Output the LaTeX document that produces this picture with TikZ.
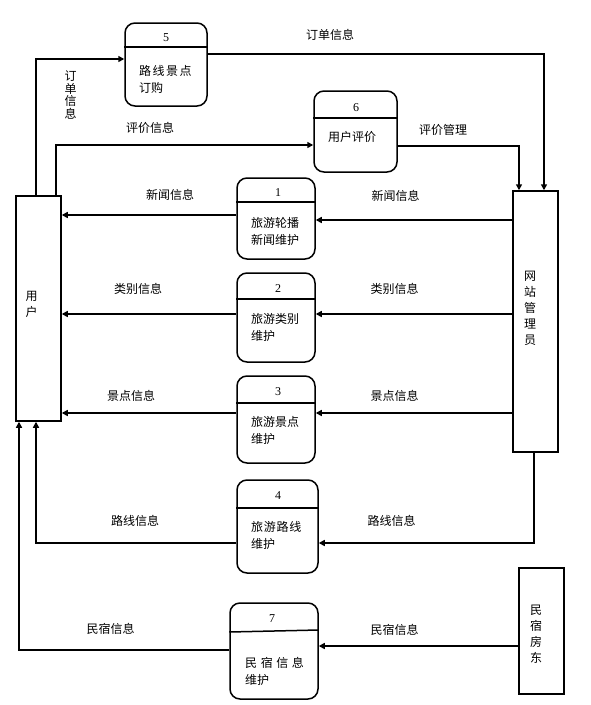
\documentclass[tikz,border=0pt]{standalone}
\usepackage{fontspec}
\setmainfont{Noto Sans CJK SC}
\newfontfamily\numfont{Liberation Serif}
\usetikzlibrary{arrows.meta,calc}

\begin{document}
\begin{tikzpicture}[x=1pt, y=-1pt, font=\fontsize{12}{17}\selectfont,
  ent/.style={draw, line width=1.5pt, minimum width=45pt, inner sep=0pt},
  proc/.style={draw, line width=1.5pt, rounded corners=10pt, inner sep=0pt},
  arr/.style={-{Triangle[length=6pt,width=6pt]}, line width=1.5pt},
  vtxt/.style={align=center, inner sep=0pt, font=\fontsize{12}{16}\selectfont},
  body/.style={anchor=west, align=left, inner sep=0pt},
  num/.style={inner sep=0pt, font=\numfont\fontsize{12}{14}\selectfont},
  lbl/.style={inner sep=1pt}]
\useasboundingbox (0,0) rectangle (590,705);

% external entities
\node[ent, minimum height=225pt] (user) at (38.5,308.5) {};
\node[vtxt] (usertxt) at (31.5,304) {用\\户};
\node[ent, minimum height=261pt] (admin) at (535.5,321.5) {};
\node[vtxt] (admintxt) at (530,308.5) {网\\站\\管\\理\\员};
\node[ent, minimum height=126pt] (host) at (541.5,631) {};
\node[vtxt] (hosttxt) at (536,634) {民\\宿\\房\\东};

% processes
\node[proc, minimum width=82pt, minimum height=83pt] (p5) at (166,64.5) {};
\node[proc, minimum width=83pt, minimum height=81pt] (p6) at (355.5,131.5) {};
\node[proc, minimum width=78pt, minimum height=81pt] (p1) at (276,218.5) {};
\node[proc, minimum width=78pt, minimum height=89pt] (p2) at (276,317.5) {};
\node[proc, minimum width=78pt, minimum height=87pt] (p3) at (276,419.5) {};
\node[proc, minimum width=81pt, minimum height=93pt] (p4) at (277.5,526.5) {};
\node[proc, minimum width=88pt, minimum height=96pt] (p7) at (274,651) {};

% dividers
\draw[line width=1.5pt] (p5.west |- 0,47) -- (p5.east |- 0,47);
\draw[line width=1.5pt] (p6.west |- 0,118) -- (p6.east |- 0,118);
\draw[line width=1.5pt] (p1.west |- 0,202) -- (p1.east |- 0,202);
\draw[line width=1.5pt] (p2.west |- 0,299) -- (p2.east |- 0,299);
\draw[line width=1.5pt] (p3.west |- 0,403) -- (p3.east |- 0,403);
\draw[line width=1.5pt] (p4.west |- 0,508) -- (p4.east |- 0,508);
\draw[line width=1.5pt] (p7.west |- 0,632) -- (p7.east |- 0,630);

% numbers and names
\node[num] (n5) at (166,38) {5};
\node[num] (n6) at (356,108) {6};
\node[num] (n1) at (278,193) {1};
\node[num] (n2) at (278,289) {2};
\node[num] (n3) at (278,392) {3};
\node[num] (n4) at (278,496) {4};
\node[num] (n7) at (272,619) {7};
\node[body] (t5) at (139,79) {{\addfontfeature{LetterSpace=12}路线景点}\\订购};
\node[body] (t6) at (328,137) {用户评价};
\node[body] (t1) at (251,231) {旅游轮播\\新闻维护};
\node[body] (t2) at (251,327) {旅游类别\\维护};
\node[body] (t3) at (251,430) {旅游景点\\维护};
\node[body] (t4) at (251,535) {{\addfontfeature{LetterSpace=6}旅游路线}\\维护};
\node[body] (t7) at (245,671) {{\addfontfeature{LetterSpace=30}民宿信息}\\维护};

% flows
\draw[arr] ([xshift=-2.5pt]user.north) |- ([yshift=5.5pt]p5.west);
\draw[arr] ([yshift=10.5pt]p5.east) -| ([xshift=8.5pt]admin.north);
\draw[arr] ([xshift=17.5pt]user.north) |- ([yshift=-13.5pt]p6.west);
\draw[arr] ([yshift=-14.5pt]p6.east) -| ([xshift=-16.5pt]admin.north);
\draw[arr] (admin.west |- 0,220) -- ([yshift=-1.5pt]p1.east);
\draw[arr] ([yshift=3.5pt]p1.west) -- (user.east |- 0,215);
\draw[arr] (admin.west |- 0,314) -- ([yshift=3.5pt]p2.east);
\draw[arr] ([yshift=3.5pt]p2.west) -- (user.east |- 0,314);
\draw[arr] (admin.west |- 0,413) -- ([yshift=6.5pt]p3.east);
\draw[arr] ([yshift=6.5pt]p3.west) -- (user.east |- 0,413);
\draw[arr] ([xshift=-1.5pt]admin.south) |- ([yshift=-16.5pt]p4.east);
\draw[arr] ([yshift=-16.5pt]p4.west) -| ([xshift=-2.5pt]user.south);
\draw[arr] (host.west |- 0,646) -- ([yshift=5pt]p7.east);
\draw[arr] ([yshift=1pt]p7.west) -| ([xshift=-19.5pt]user.south);

% flow labels
\node[vtxt, font=\fontsize{12}{12.5}\selectfont] (lorder1) at (70.5,95) {订\\单\\信\\息};
\node[lbl] (lorder2) at (330,35) {订单信息};
\node[lbl] (leval1) at (150,128) {评价信息};
\node[lbl] (leval2) at (443,130) {评价管理};
\node[lbl] (lnews1) at (170,195) {新闻信息};
\node[lbl] (lnews2) at (395.5,196) {新闻信息};
\node[lbl] (lcat1) at (138,289) {类别信息};
\node[lbl] (lcat2) at (394.5,289) {类别信息};
\node[lbl] (lspot1) at (131,396) {景点信息};
\node[lbl] (lspot2) at (394.5,396) {景点信息};
\node[lbl] (lroute1) at (135,521) {路线信息};
\node[lbl] (lroute2) at (391.5,521) {路线信息};
\node[lbl] (lstay1) at (110.5,629) {民宿信息};
\node[lbl] (lstay2) at (394.5,630) {民宿信息};
\end{tikzpicture}
\end{document}
